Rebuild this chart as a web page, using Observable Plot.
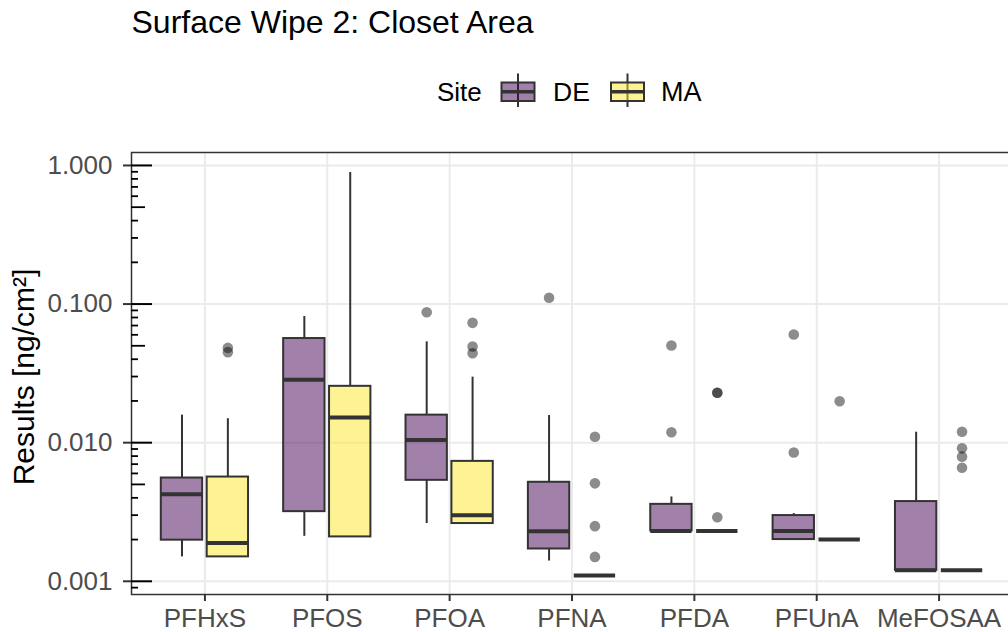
<!DOCTYPE html>
<html>
<head>
<meta charset="utf-8">
<script src="https://cdn.jsdelivr.net/npm/d3@7"></script>
<script src="https://cdn.jsdelivr.net/npm/@observablehq/plot@0.6"></script>
<style>
  html, body { margin: 0; padding: 0; background: #ffffff; }
  body { width: 1008px; height: 632px; overflow: hidden; font-family: "Liberation Sans", Arial, sans-serif; }
  svg { display: block; }
  #chart g[aria-label*="axis"] line, #chart g[aria-label*="axis tick"] path { stroke: #333333; stroke-width: 2px; }
</style>
</head>
<body>
<svg id="header" width="1008" height="120" xmlns="http://www.w3.org/2000/svg" font-family="'Liberation Sans', Arial, sans-serif">
  <text x="131.5" y="33" font-size="32" fill="#000">Surface Wipe 2: Closet Area</text>
  <text x="437" y="101" font-size="26" fill="#000">Site</text>
  <g id="key-DE">
    <line x1="518" x2="518" y1="73.5" y2="107" stroke="#333" stroke-width="2"/>
    <rect x="501.5" y="82.5" width="33" height="18.5" fill="#440154" fill-opacity="0.5" stroke="#333" stroke-width="2"/>
    <line x1="501.5" x2="534.5" y1="91.7" y2="91.7" stroke="#333" stroke-width="3.5"/>
  </g>
  <text x="553" y="101" font-size="26.5" fill="#000">DE</text>
  <g id="key-MA">
    <line x1="627.5" x2="627.5" y1="73.5" y2="107" stroke="#333" stroke-width="2"/>
    <rect x="611" y="82.5" width="33" height="18.5" fill="#FDE725" fill-opacity="0.5" stroke="#333" stroke-width="2"/>
    <line x1="611" x2="644" y1="91.7" y2="91.7" stroke="#333" stroke-width="3.5"/>
  </g>
  <text x="661" y="101" font-size="27" fill="#000">MA</text>
</svg>
<div id="chart"></div>
<script>
// ---- data ----
const categories = ["PFHxS", "PFOS", "PFOA", "PFNA", "PFDA", "PFUnA", "MeFOSAA"];
const sites = ["DE", "MA"];
const siteColors = ["#440154", "#FDE725"];

// DE summary statistics (ng/cm2)
const deLower  = [0.0015,  0.00211, 0.00261, 0.0014,  0.00231, 0.0020,  0.0012];
const deQ1     = [0.00198, 0.00318, 0.00535, 0.00171, 0.00231, 0.0020,  0.0012];
const deMedian = [0.00424, 0.0284,  0.01044, 0.0023,  0.00231, 0.00231, 0.0012];
const deQ3     = [0.00556, 0.0564,  0.0158,  0.00518, 0.00359, 0.00298, 0.00376];
const deUpper  = [0.0158,  0.0813,  0.0534,  0.0157,  0.00406, 0.00308, 0.0119];
const deOutliers = [[], [], [0.0873], [0.111], [0.0502, 0.0119], [0.0603, 0.0085], []];

// MA summary statistics (ng/cm2)
const maLower  = [0.0015,  0.00209, 0.00261, 0.0011, 0.00231, 0.0020, 0.0012];
const maQ1     = [0.0015,  0.00209, 0.00261, 0.0011, 0.00231, 0.0020, 0.0012];
const maMedian = [0.00189, 0.0152,  0.00299, 0.0011, 0.00231, 0.0020, 0.0012];
const maQ3     = [0.00565, 0.0255,  0.00733, 0.0011, 0.00231, 0.0020, 0.0012];
const maUpper  = [0.0149,  0.89,    0.0297,  0.0011, 0.00231, 0.0020, 0.0012];
const maOutliers = [[0.0483, 0.045], [], [0.0732, 0.0494, 0.0442], [0.01104, 0.00509, 0.0025, 0.0015], [0.0229, 0.0229, 0.0029], [0.0199], [0.012, 0.0091, 0.00793, 0.0066]];

// axis ticks
const yMajorTicks = [0.001, 0.01, 0.1, 1];
const yMidTicks = [0.005, 0.05, 0.5];
const yMinorTicks = [0.0009,
  0.002, 0.003, 0.004, 0.006, 0.007, 0.008, 0.009,
  0.02, 0.03, 0.04, 0.06, 0.07, 0.08, 0.09,
  0.2, 0.3, 0.4, 0.6, 0.7, 0.8, 0.9];

// ---- build tables ----
const stats = {
  DE: {lo: deLower, q1: deQ1, med: deMedian, q3: deQ3, hi: deUpper, out: deOutliers},
  MA: {lo: maLower, q1: maQ1, med: maMedian, q3: maQ3, hi: maUpper, out: maOutliers}
};
const boxes = categories.flatMap((cat, i) => sites.map((site, j) => ({
  cat, i, j, site,
  lo: stats[site].lo[i], q1: stats[site].q1[i], med: stats[site].med[i],
  q3: stats[site].q3[i], hi: stats[site].hi[i]
})));
const outliers = categories.flatMap((cat, i) => sites.flatMap((site, j) =>
  stats[site].out[i].map(v => ({cat, i, j, site, v}))));

const dodge = 0.1875, halfW = 0.169;
const cx = d => d.i + (d.j === 0 ? -dodge : dodge);

const W = 1008, H = 512, mL = 131, mR = -4;
const frameW = W - mL - mR;

const chart = Plot.plot({
  width: W, height: H,
  marginTop: 32, marginBottom: 38, marginLeft: mL, marginRight: mR,
  style: {fontFamily: "'Liberation Sans', Arial, sans-serif", fontSize: "26px", color: "#4d4d4d", background: "#ffffff", overflow: "hidden"},
  x: {type: "linear", domain: [-0.6, categories.length - 0.4], ticks: categories.map((c, i) => i),
      tickFormat: i => categories[i], tickSize: 7, tickPadding: 7, label: null},
  y: {type: "log", domain: [0.000803, 1.24], ticks: yMajorTicks, tickFormat: d3.format(".3f"),
      tickSize: 8, tickPadding: 11, label: null},
  color: {domain: sites, range: siteColors},
  marks: [
    Plot.ruleY(yMajorTicks, {stroke: "#ebebeb", strokeWidth: 2}),
    Plot.ruleX(categories.map((c, i) => i), {stroke: "#ebebeb", strokeWidth: 2}),
    Plot.ruleX(boxes, {x: cx, y1: "lo", y2: "q1", stroke: "#333333", strokeWidth: 2}),
    Plot.ruleX(boxes, {x: cx, y1: "q3", y2: "hi", stroke: "#333333", strokeWidth: 2}),
    Plot.rect(boxes, {x1: d => cx(d) - halfW, x2: d => cx(d) + halfW, y1: "q1", y2: "q3",
      fill: "site", fillOpacity: 0.5, stroke: "#333333", strokeWidth: 2}),
    Plot.ruleY(boxes, {y: "med", x1: d => cx(d) - halfW, x2: d => cx(d) + halfW, stroke: "#333333", strokeWidth: 4}),
    Plot.dot(outliers, {x: cx, y: "v", r: 5.3, fill: "#000000", fillOpacity: 0.45, stroke: "none"}),
    Plot.frame({stroke: "#333333", strokeWidth: 1.5}),
    Plot.ruleY(yMajorTicks, {stroke: "#000000", strokeWidth: 2, insetRight: frameW - 21}),
    Plot.ruleY(yMidTicks, {stroke: "#000000", strokeWidth: 1.8, insetRight: frameW - 14}),
    Plot.ruleY(yMinorTicks, {stroke: "#000000", strokeWidth: 1.8, insetRight: frameW - 7}),
    Plot.text(["Results [ng/cm²]"], {frameAnchor: "left", textAnchor: "middle", rotate: -90, dx: -107.3, dy: 3.5,
      fontSize: 30, fill: "#000000"})
  ]
});
document.getElementById("chart").appendChild(chart);
</script>
</body>
</html>
